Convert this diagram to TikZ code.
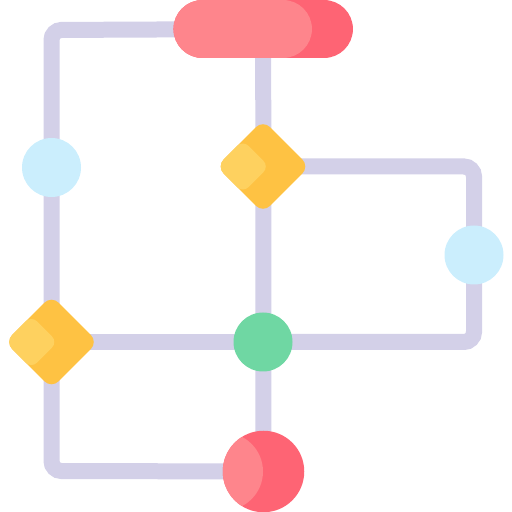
\documentclass[tikz,border=0pt]{standalone}
\usetikzlibrary{shapes.geometric,backgrounds}
\definecolor{wirec}{HTML}{D3D0E8}
\definecolor{pinkL}{HTML}{FE858C}
\definecolor{pinkD}{HTML}{FE6474}
\definecolor{yelL}{HTML}{FED15F}
\definecolor{yelD}{HTML}{FEC243}
\definecolor{bluec}{HTML}{CBEEFD}
\definecolor{greenc}{HTML}{6FD7A3}
\tikzset{
  wire/.style={draw=wirec,line width=16pt,rounded corners=10pt},
  dot/.style={circle,inner sep=0pt,minimum size=59pt,draw=none},
  decision/.style={diamond,inner sep=0pt,minimum size=93pt,rounded corners=10pt,fill=yelD,draw=none,
    path picture={\fill[yelL,rounded corners=8pt] ([xshift=-46.5pt]path picture bounding box.center) -- ++(26.3pt,26.3pt) -- ++(26.3pt,-26.3pt) -- ++(-26.3pt,-26.3pt) -- cycle;}},
}
\begin{document}
\begin{tikzpicture}[x=1pt,y=1pt]
\useasboundingbox (0,0) rectangle (512,512);
% nodes
\node[rectangle,rounded corners=29pt,minimum width=179.5pt,minimum height=58pt,inner sep=0pt,fill=pinkD,
  path picture={\fill[pinkL,rounded corners=29pt] (path picture bounding box.south west) rectangle ++(138.5pt,58pt);}] (pill) at (263.2,483) {};
\node[decision] (d1) at (263,345.5) {};
\node[decision] (d2) at (51.5,170) {};
\node[dot,fill=bluec] (lb) at (51.5,344.5) {};
\node[dot,fill=bluec] (rb) at (474,257) {};
\node[dot,fill=greenc] (gc) at (263,170) {};
\node[circle,inner sep=0pt,minimum size=81.5pt,fill=pinkD,
  path picture={\fill[pinkL] ([xshift=-39.5pt]path picture bounding box.center) circle (39pt);}] (bc) at (263.5,40.5) {};
\coordinate (c1) at (51.5,482);
\coordinate (c2) at (51.5,41);
\coordinate (c3) at (474,345.5);
\coordinate (c4) at (474,170);
\begin{pgfonlayer}{background}
\draw[wire] (pill.center) -- (c1) -- (c2) -- (bc.center);
\draw[wire] (pill.center) -- (bc.center);
\draw[wire] (d1.center) -- (c3) -- (c4) -- (gc.center);
\draw[wire] (d2.center) -- (gc.center);
\end{pgfonlayer}
\end{tikzpicture}
\end{document}
